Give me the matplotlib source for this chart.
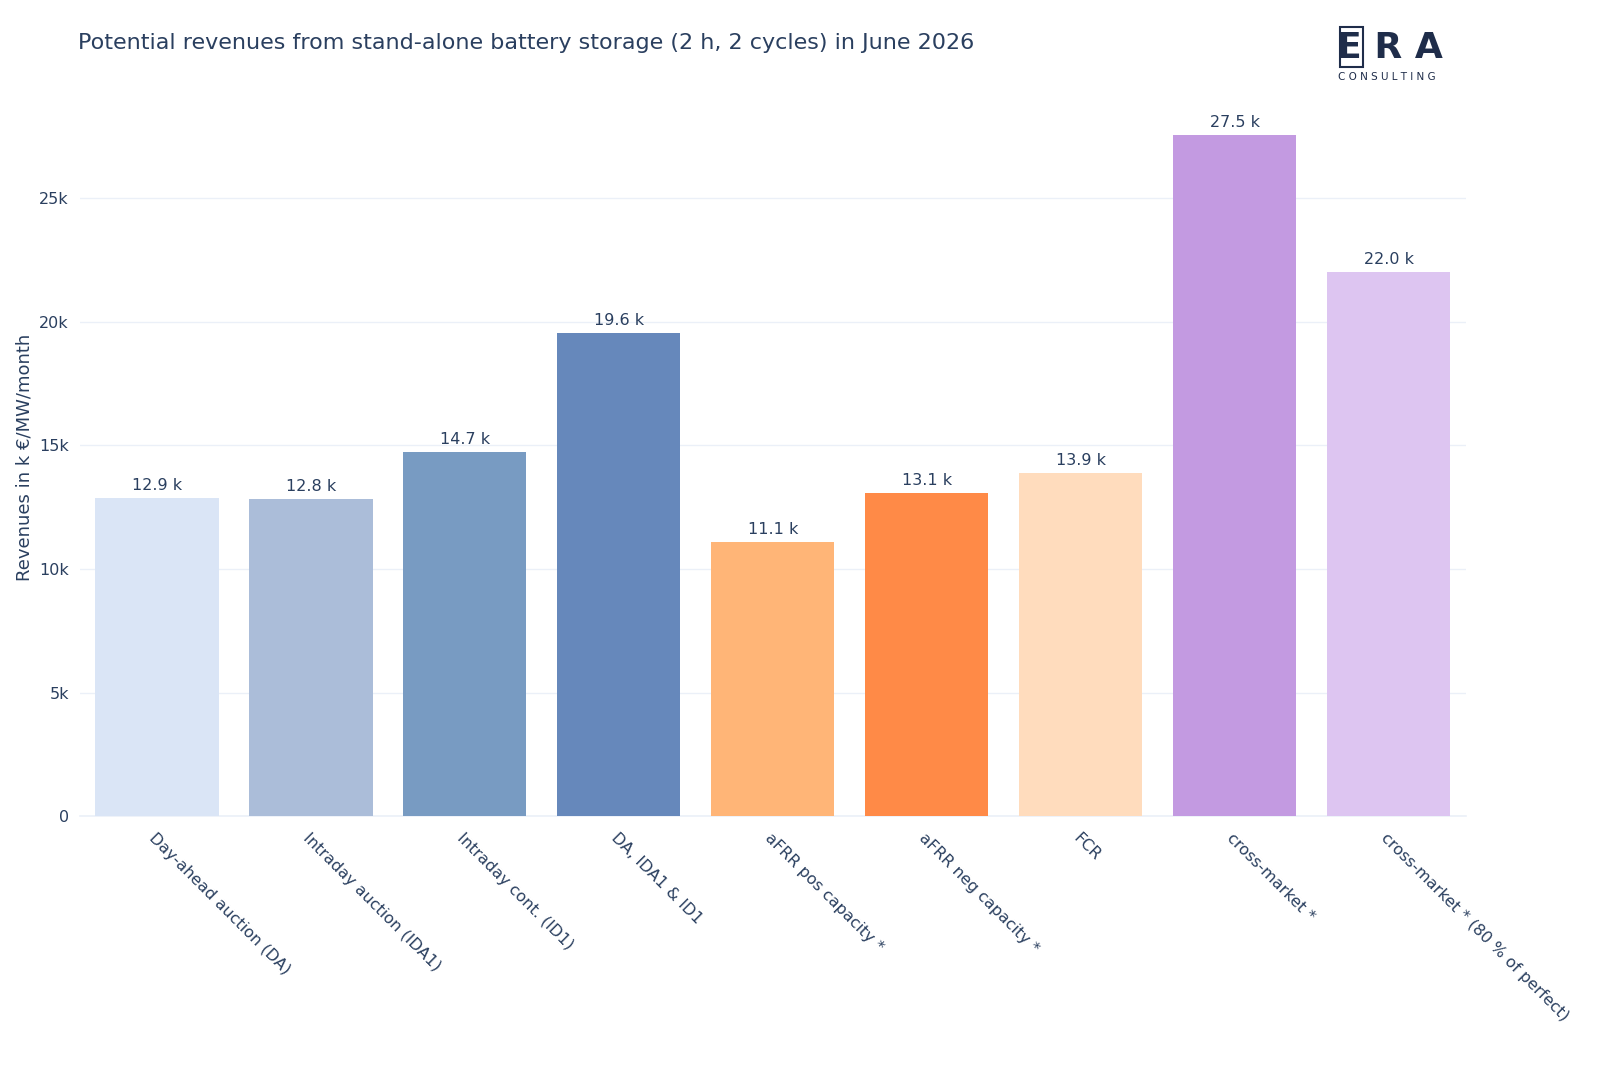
import matplotlib
matplotlib.use("Agg")
import matplotlib.pyplot as plt
from matplotlib.patches import Rectangle

categories = ["Day-ahead auction (DA)", "Intraday auction (IDA1)", "Intraday cont. (ID1)",
              "DA, IDA1 & ID1", "aFRR pos capacity *", "aFRR neg capacity *", "FCR",
              "cross-market *", "cross-market * (80 % of perfect)"]
values = [12870, 12820, 14730, 19560, 11080, 13070, 13880, 27540, 22030]
colors = ["#dae5f6", "#abbdd9", "#789bc2", "#6688bb", "#ffb577", "#ff8a47",
          "#ffdcbd", "#c39ae1", "#ddc5f1"]
yticks = [0, 5000, 10000, 15000, 20000, 25000]
yticklabels = ["0", "5k", "10k", "15k", "20k", "25k"]

txt = "#2a3f5f"
plt.rcParams['font.family'] = ['DejaVu Sans']

fig = plt.figure(figsize=(16, 10.67), dpi=100)
ax = fig.add_axes([0.05, 0.235, 0.866, 0.672])
x = list(range(len(categories)))
ax.bar(x, values, width=0.8, color=colors, zorder=3)
for xi, v in zip(x, values):
    ax.text(xi, v + 200, f"{v/1000:.1f} k", ha="center", va="bottom", fontsize=11.5, color=txt)

ax.set_xlim(-0.5, len(categories) - 0.5)
ax.set_ylim(0, 29000)
ax.set_yticks(yticks)
ax.set_yticklabels(yticklabels, fontsize=11.5, color=txt)
ax.set_xticks(x)
ax.set_xticklabels(categories, rotation=-45, ha="left", va="top", rotation_mode="anchor",
                   fontsize=11.5, color=txt)
ax.tick_params(axis="y", length=0, pad=8)
ax.tick_params(axis="x", length=0, pad=10)
ax.grid(axis="y", color="#ebf0f8", linewidth=1, zorder=0)
for s in ["top", "right", "left"]:
    ax.spines[s].set_visible(False)
ax.spines["bottom"].set_color("#ebf0f8")
ax.spines["bottom"].set_linewidth(1.2)
ax.set_ylabel("Revenues in k €/MW/month", fontsize=13, color=txt, labelpad=4)

fig.text(0.049, 0.96, "Potential revenues from stand-alone battery storage (2 h, 2 cycles) in June 2026",
         fontsize=16, color=txt, ha="left", va="center")

# logo
navy = "#1f2d4a"
fig.text(0.8355, 0.955, "E R A", fontsize=26, fontweight="bold", color=navy, ha="left", va="center")
fig.patches.append(Rectangle((0.8375, 0.937), 0.0145, 0.038, transform=fig.transFigure,
                             fill=False, edgecolor=navy, linewidth=1.5))
fig.text(0.8362, 0.928, "C O N S U L T I N G", fontsize=7.5, color=navy, ha="left", va="center")

fig.savefig("out.png", dpi=100, facecolor="white")
